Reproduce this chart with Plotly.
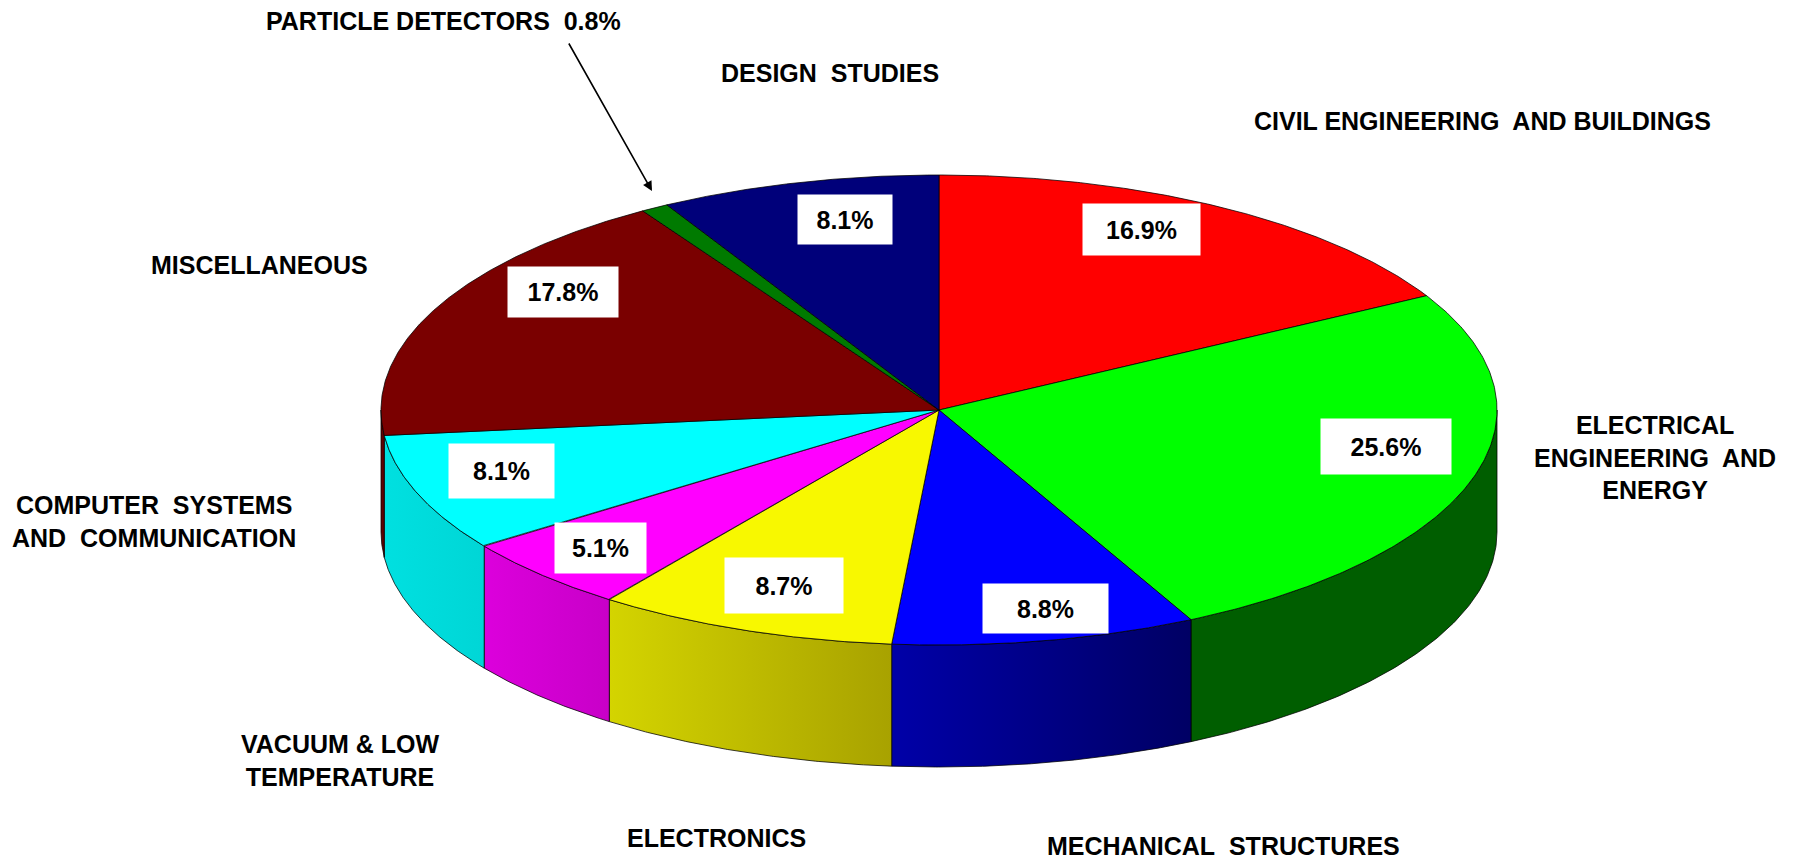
import numpy as np
import plotly.graph_objects as go

# ---------------- data ----------------
categories = [
    "CIVIL ENGINEERING AND BUILDINGS",
    "ELECTRICAL ENGINEERING AND ENERGY",
    "MECHANICAL STRUCTURES",
    "ELECTRONICS",
    "VACUUM & LOW TEMPERATURE",
    "COMPUTER SYSTEMS AND COMMUNICATION",
    "MISCELLANEOUS",
    "PARTICLE DETECTORS",
    "DESIGN STUDIES",
]
shares = [16.9, 25.6, 8.8, 8.7, 5.1, 8.1, 17.8, 0.8, 8.1]

# outer label texts (with line breaks as in the picture)
NB = "\u00a0"
outer_texts = [
    f"CIVIL ENGINEERING{NB} AND BUILDINGS",
    f"ELECTRICAL<br>ENGINEERING{NB} AND<br>ENERGY",
    f"MECHANICAL{NB} STRUCTURES",
    "ELECTRONICS",
    "VACUUM & LOW<br>TEMPERATURE",
    f"COMPUTER{NB} SYSTEMS<br>AND{NB} COMMUNICATION",
    "MISCELLANEOUS",
    f"PARTICLE DETECTORS{NB} {shares[7]:.1f}%",
    f"DESIGN{NB} STUDIES",
]

# ---------------- styles / layout ----------------
top_colors = ["#FF0000", "#00FF00", "#0000FF", "#F8F800", "#FF00FF",
              "#00FFFF", "#7A0000", "#007A00", "#00007A"]
side_colors = [("#B00000", "#B00000"), ("#005E00", "#005E00"),
               ("#0000A8", "#000064"), ("#D4D400", "#A8A200"),
               ("#DC00DC", "#C800C8"), ("#00E0E0", "#00D6D6"),
               ("#600000", "#600000"), ("#005000", "#005000"),
               ("#000050", "#000050")]

W, H = 1796, 863
CX, CY, RX, RY, DEPTH = 939.0, 410.0, 558.0, 235.0, 122.0

# percentage label boxes (centre x, centre y, width, height); None = no inner label
pct_boxes = [(1141, 229, 117, 51), (1386, 446, 130, 55), (1045, 608, 125, 49),
             (784, 585, 118, 55), (600, 548, 91, 50), (501, 471, 105, 54),
             (563, 292, 110, 50), None, (845, 219, 94, 49)]
# outer label centres
outer_pos = [(1482, 121), (1655, 457), (1223, 846), (716, 838), (340, 760),
             (154, 521), (259, 265), (443, 21), (830, 73)]
arrow_tail = (568, 42)
arrow_head = (652, 191)

FONT = "Liberation Sans, Arial, Helvetica, sans-serif"
FS = 25


def ex(t):
    return CX + RX * np.sin(t)


def ey(t):
    return CY - RY * np.cos(t)


total = sum(shares)
bounds = np.concatenate([[0.0], np.cumsum(shares) / total * 2 * np.pi])

fig = go.Figure()
edge = dict(color="rgba(0,0,0,0.75)", width=1)

# side walls (front half only), drawn first
for i in range(len(shares)):
    lo = max(bounds[i], np.pi / 2)
    hi = min(bounds[i + 1], 3 * np.pi / 2)
    if hi <= lo:
        continue
    t = np.linspace(lo, hi, 120)
    xs = np.concatenate([ex(t), ex(t[::-1]), [ex(t[0])]])
    ys = np.concatenate([ey(t), ey(t[::-1]) + DEPTH, [ey(t[0])]])
    c0, c1 = side_colors[i]
    kw = {}
    if c0 != c1:
        kw["fillgradient"] = dict(type="horizontal",
                                  colorscale=[[0, c0], [1, c1]])
    else:
        kw["fillcolor"] = c0
    fig.add_trace(go.Scatter(x=xs, y=ys, mode="lines", fill="toself",
                             line=edge, hoverinfo="skip", **kw))

# top faces
for i in range(len(shares)):
    t = np.linspace(bounds[i], bounds[i + 1], 200)
    xs = np.concatenate([[CX], ex(t), [CX]])
    ys = np.concatenate([[CY], ey(t), [CY]])
    fig.add_trace(go.Scatter(x=xs, y=ys, mode="lines", fill="toself",
                             fillcolor=top_colors[i], line=edge,
                             name=categories[i],
                             hovertemplate=f"{categories[i]}: {shares[i]:.1f}%<extra></extra>"))

annotations = []
for i, box in enumerate(pct_boxes):
    if box is None:
        continue
    bx, by, bw, bh = box
    annotations.append(dict(
        x=bx, y=by, xref="x", yref="y", text=f"<b>{shares[i]:.1f}%</b>",
        showarrow=False, bgcolor="white", width=bw, height=bh, borderpad=0,
        align="center", valign="middle",
        font=dict(family=FONT, size=FS, color="black")))

for i, (tx, ty) in enumerate(outer_pos):
    annotations.append(dict(
        x=tx, y=ty, xref="x", yref="y", text=f"<b>{outer_texts[i]}</b>",
        showarrow=False, align="center", xanchor="center", yanchor="middle",
        font=dict(family=FONT, size=FS, color="black")))

annotations.append(dict(
    x=arrow_head[0], y=arrow_head[1], ax=arrow_tail[0], ay=arrow_tail[1],
    xref="x", yref="y", axref="x", ayref="y", text="", showarrow=True,
    arrowhead=2, arrowsize=1.2, arrowwidth=1.6, arrowcolor="black"))

fig.update_layout(
    width=W, height=H, margin=dict(l=0, r=0, t=0, b=0),
    paper_bgcolor="white", plot_bgcolor="white", showlegend=False,
    xaxis=dict(range=[0, W], visible=False, fixedrange=True),
    yaxis=dict(range=[H, 0], visible=False, fixedrange=True),
    annotations=annotations,
)

fig.write_html("out.html",
               config={"displayModeBar": False},
               post_script="document.body.style.margin='0';document.body.style.overflow='hidden';")
